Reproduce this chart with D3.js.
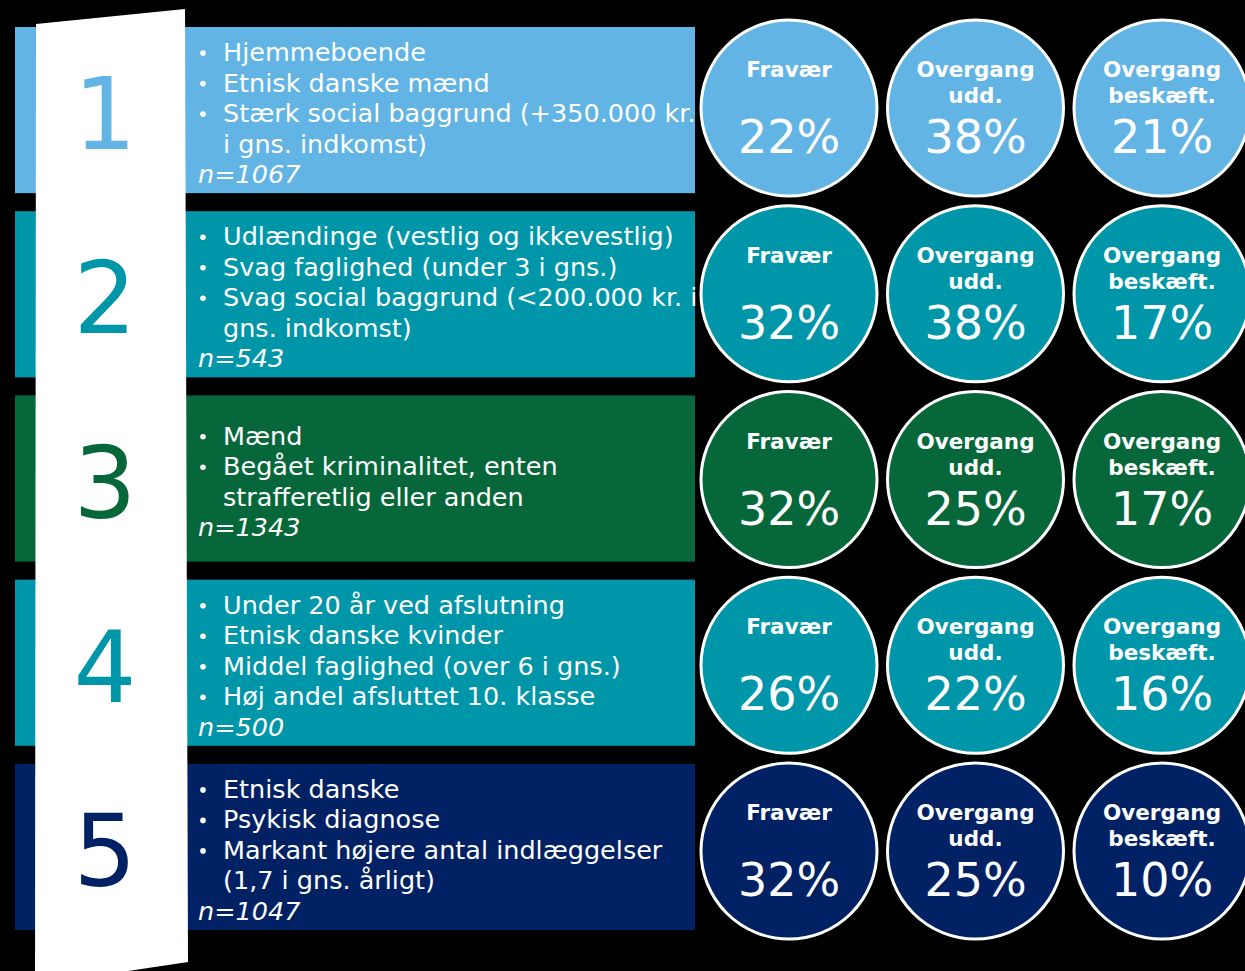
<!DOCTYPE html>
<html lang="da">
<head>
    <meta charset="UTF-8">
    <title>Profiler</title>
    <script src="https://d3js.org/d3.v7.min.js"></script>
    <style>
        body { margin: 0; background: #000; }
        text { font-family: "DejaVu Sans", Verdana, sans-serif; }
    </style>
</head>
<body>

<svg width="1245" height="971"></svg>
<script>

    // data
    var groups = ["1", "2", "3", "4", "5"];
    var groupColors = ["#62b4e4", "#0096a9", "#06683a", "#0096a9", "#002163"];
    var bullets = [
        [["Hjemmeboende"], ["Etnisk danske mænd"], ["Stærk social baggrund (+350.000 kr.", "i gns. indkomst)"]],
        [["Udlændinge (vestlig og ikkevestlig)"], ["Svag faglighed (under 3 i gns.)"], ["Svag social baggrund (<200.000 kr. i", "gns. indkomst)"]],
        [["Mænd"], ["Begået kriminalitet, enten", "strafferetlig eller anden"]],
        [["Under 20 år ved afslutning"], ["Etnisk danske kvinder"], ["Middel faglighed (over 6 i gns.)"], ["Høj andel afsluttet 10. klasse"]],
        [["Etnisk danske"], ["Psykisk diagnose"], ["Markant højere antal indlæggelser", "(1,7 i gns. årligt)"]]
    ];
    var nValues = [1067, 543, 1343, 500, 1047];
    var measures = [["Fravær"], ["Overgang", "udd."], ["Overgang", "beskæft."]];
    var fravaer = [22, 32, 32, 26, 32];
    var overgangUdd = [38, 38, 25, 22, 25];
    var overgangBeskaeft = [21, 17, 17, 16, 10];

    var values = [fravaer, overgangUdd, overgangBeskaeft];

    var svg = d3.select("svg");

    // rows
    var y = d3.scaleBand()
        .domain(groups)
        .range([27, 930])
        .paddingInner(0.098)
        .paddingOuter(0);

    // circle rows sit on a slightly wider pitch than the bars
    var cyScale = d3.scalePoint()
        .domain(groups)
        .range([108, 851]);

    // circle columns
    var x = d3.scalePoint()
        .domain(measures.map(function (d, i) { return i; }))
        .range([789, 1162]);

    var lineH = 30.5;
    var fs = 25.5;
    var r = 88;

    var rows = svg.selectAll(".row")
        .data(groups)
        .enter().append("g")
        .attr("class", "row");

    rows.append("rect")
        .attr("x", 15)
        .attr("width", 680)
        .attr("y", function (d) { return y(d); })
        .attr("height", y.bandwidth())
        .attr("fill", function (d, i) { return groupColors[i]; });

    // text lines per row
    rows.each(function (d, i) {
        var g = d3.select(this);
        var lines = [];
        bullets[i].forEach(function (b) {
            b.forEach(function (t, j) {
                lines.push({ text: t, bullet: j === 0 });
            });
        });
        lines.push({ text: "n=" + nValues[i], n: true });

        var cy = y(d) + y.bandwidth() / 2 + 3;
        var y0 = cy - (lines.length - 1) * lineH / 2;

        lines.forEach(function (l, k) {
            var by = y0 + k * lineH + 9;
            if (l.n) {
                g.append("text")
                    .attr("x", 198)
                    .attr("y", by)
                    .attr("fill", "#fff")
                    .attr("font-size", fs)
                    .attr("font-style", "italic")
                    .text(l.text);
                return;
            }
            if (l.bullet) {
                g.append("circle")
                    .attr("cx", 203)
                    .attr("cy", by - 8)
                    .attr("r", 2.8)
                    .attr("fill", "#fff");
            }
            g.append("text")
                .attr("x", 223)
                .attr("y", by)
                .attr("fill", "#fff")
                .attr("font-size", fs)
                .text(l.text);
        });
    });

    // white strip
    svg.append("polygon")
        .attr("points", "36,24 185,9 188,962 35,985")
        .attr("fill", "#fff");

    svg.selectAll(".num")
        .data(groups)
        .enter().append("text")
        .attr("class", "num")
        .attr("x", 105)
        .attr("y", function (d) { return y(d) + y.bandwidth() / 2 + 39; })
        .attr("text-anchor", "middle")
        .attr("font-size", 99)
        .attr("fill", function (d, i) { return groupColors[i]; })
        .text(function (d) { return d; });

    // circles
    rows.each(function (d, i) {
        var g = d3.select(this);
        var cy = cyScale(d);
        measures.forEach(function (m, j) {
            var cx = x(j);
            g.append("circle")
                .attr("cx", cx)
                .attr("cy", cy)
                .attr("r", r)
                .attr("fill", groupColors[i])
                .attr("stroke", "#fff")
                .attr("stroke-width", 3);
            m.forEach(function (t, k) {
                g.append("text")
                    .attr("x", cx)
                    .attr("y", cy - 31 + k * 26)
                    .attr("text-anchor", "middle")
                    .attr("font-size", 21.5)
                    .attr("font-weight", "bold")
                    .attr("fill", "#fff")
                    .text(t);
            });
            g.append("text")
                .attr("x", cx)
                .attr("y", cy + 45)
                .attr("text-anchor", "middle")
                .attr("font-size", 46)
                .attr("fill", "#fff")
                .text(values[j][i] + "%");
        });
    });

</script>

</body>
</html>
